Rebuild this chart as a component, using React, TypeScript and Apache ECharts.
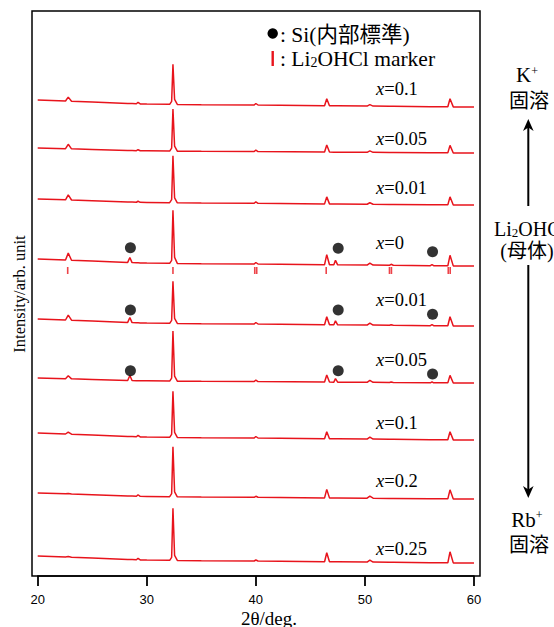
import React, { useEffect, useRef } from 'react';
import * as echarts from 'echarts';

// 2θ sampling points (deg) shared by all patterns
const angles = [20, 22.55, 22.8, 23.1, 25, 28.25, 28.45, 28.65, 29.05, 29.2, 29.4, 30, 32.1, 32.28, 32.4, 32.55, 32.8, 35, 39.85, 40.0, 40.2, 46.3, 46.5, 46.75, 47.15, 47.3, 47.5, 50.2, 50.45, 50.75, 52.25, 52.4, 52.6, 56.0, 56.15, 56.3, 57.6, 57.8, 58.1, 60];
// background shape (relative, for a 7-unit fall from 20° to 60°)
const baseShape = [7, 6.0, 5.9, 5.8, 5.0, 3.6, 3.5, 3.4, 3.2, 3.2, 3.1, 3.0, 2.7, 2.7, 2.7, 2.6, 2.6, 2.3, 2.0, 2.0, 2.0, 1.3, 1.3, 1.3, 1.2, 1.2, 1.2, 0.9, 0.9, 0.9, 0.7, 0.7, 0.7, 0.3, 0.3, 0.3, 0.2, 0.2, 0.1, 0];
const peakCenters = [22.8, 28.45, 29.2, 32.28, 32.4, 32.55, 40.0, 46.5, 47.3, 50.45, 52.4, 56.15, 57.8];

// samples, top to bottom
const sampleLabels = ['0.1', '0.05', '0.01', '0', '0.01', '0.05', '0.1', '0.2', '0.25'];
const endLevels = [469, 423, 371, 310, 250, 193, 136, 77, 13];
const drops = [7, 5, 6, 7, 7, 5, 7, 6, 7];
const peakHeights = [
  [4, 0, 1.5, 3, 40, 5, 1.5, 7, 0, 1.5, 0, 0, 8],
  [4.5, 0, 1, 3, 42, 5, 1.5, 7, 0, 1.5, 0, 0, 7.5],
  [5, 0, 1, 3, 47, 5, 1.5, 7, 0, 1.5, 0, 0, 8],
  [7, 5, 0, 3, 53, 6, 1.5, 10, 4.5, 2, 1, 1, 10.5],
  [5, 5, 0, 3, 42, 5, 1.5, 8, 4, 2, 0.5, 1, 9],
  [3, 5, 0, 3, 50, 5, 1.5, 7, 3.5, 2, 0.5, 1, 7.5],
  [2, 0, 1.5, 3, 46, 5, 1.5, 7, 0, 2, 0, 0, 8],
  [0.5, 0, 1.5, 3, 50, 5, 1, 8.5, 0, 2, 0, 0, 9],
  [0.5, 0, 1.5, 3, 52, 5, 1, 9, 0, 2, 0, 0, 11],
];

// Si internal standard markers
const siAngles = [28.5, 47.55, 56.2];
const siTraces = [3, 4, 5];
const siHeights = [
  [18.3, 17.7, 14.3],
  [16, 16, 11.7],
  [12.3, 12.3, 9],
];

// Li2OHCl reference marks (under x=0 pattern)
const markerAngles = [22.75, 32.4, 39.9, 40.08, 46.45, 52.25, 52.43, 57.64, 57.82];
const markerTrace = 3;
const markerDrop = 4.5;

const xTicks = [20, 30, 40, 50, 60];

// label vertical positions (px) for the x= labels
const labelY = [89, 138.5, 188, 243, 300, 360, 423, 481, 548.5];

const RED = '#e8141c';
const SERIF = '"Liberation Serif", "Times New Roman", "Noto Sans CJK JP", serif';

export default function App() {
  const ref = useRef<HTMLDivElement>(null);
  useEffect(() => {
    document.body.style.margin = '0';
    document.body.style.overflow = 'hidden';
    const chart = echarts.init(ref.current!, undefined, { renderer: 'svg' });

    const traceSeries = endLevels.map((lvl, k) => ({
      type: 'line',
      data: angles.map((a, i) => {
        const j = peakCenters.indexOf(a);
        const pk = j >= 0 ? peakHeights[k][j] : 0;
        return [a, lvl + (baseShape[i] * drops[k]) / 7 + pk];
      }),
      showSymbol: false,
      symbol: 'none',
      lineStyle: { color: RED, width: 1.5 },
      z: 2,
      silent: true,
    }));

    const siData: number[][] = [];
    siTraces.forEach((t, r) => {
      siAngles.forEach((a, c) => siData.push([a, endLevels[t] + siHeights[r][c]]));
    });

    const markerData = markerAngles.map((a) => [a, endLevels[markerTrace] - markerDrop]);

    const graphics: any[] = [
      { type: 'rect', shape: { x: 32, y: 11, width: 448, height: 565 }, style: { fill: 'none', stroke: '#000', lineWidth: 1.5 }, z: 100 },
      // legend
      { type: 'circle', shape: { cx: 272.7, cy: 33.5, r: 5.2 }, style: { fill: '#000' } },
      { type: 'text', x: 280, y: 34.5, style: { text: ': Si(内部標準)', font: `21.5px ${SERIF}`, fill: '#000', verticalAlign: 'middle', align: 'left' } },
      { type: 'rect', shape: { x: 271.5, y: 51, width: 2.4, height: 15 }, style: { fill: RED } },
      {
        type: 'text', x: 280, y: 58.5,
        style: {
          text: ': Li{sub|2}OHCl marker', font: `21.5px ${SERIF}`, fill: '#000', verticalAlign: 'middle', align: 'left',
          rich: { sub: { fontSize: 14, fontFamily: SERIF, verticalAlign: 'bottom', fill: '#000' } },
        },
      },
      // axis title
      { type: 'text', x: 19, y: 294, rotation: Math.PI / 2, style: { text: 'Intensity/arb. unit', font: `16.5px ${SERIF}`, fill: '#000', align: 'center', verticalAlign: 'middle' } },
      { type: 'text', x: 269, y: 609, style: { text: '2θ/deg.', font: `19px ${SERIF}`, fill: '#000', align: 'center', verticalAlign: 'top' } },
      // right annotations
      { type: 'text', x: 527, y: 75, style: { text: 'K{sup|+}', font: `21px ${SERIF}`, fill: '#000', align: 'center', verticalAlign: 'middle', rich: { sup: { fontSize: 12, verticalAlign: 'top', fontFamily: SERIF, fill: '#000' } } } },
      { type: 'text', x: 529, y: 101, style: { text: '固溶', font: `20px ${SERIF}`, fill: '#000', align: 'center', verticalAlign: 'middle' } },
      { type: 'line', shape: { x1: 528.3, y1: 206, x2: 528.3, y2: 124 }, style: { stroke: '#000', lineWidth: 2 } },
      { type: 'polygon', shape: { points: [[528.3, 119], [523, 131], [528.3, 127.5], [533.6, 131]] }, style: { fill: '#000' } },
      { type: 'text', x: 530, y: 228.5, style: { text: 'Li{sub|2}OHCl', font: `20px ${SERIF}`, fill: '#000', align: 'center', verticalAlign: 'middle', rich: { sub: { fontSize: 13, fontFamily: SERIF, verticalAlign: 'bottom', fill: '#000' } } } },
      { type: 'text', x: 527, y: 251, style: { text: '(母体)', font: `20px ${SERIF}`, fill: '#000', align: 'center', verticalAlign: 'middle' } },
      { type: 'line', shape: { x1: 528.3, y1: 265, x2: 528.3, y2: 492 }, style: { stroke: '#000', lineWidth: 2 } },
      { type: 'polygon', shape: { points: [[528.3, 498], [523, 486], [528.3, 489.5], [533.6, 486]] }, style: { fill: '#000' } },
      { type: 'text', x: 527, y: 519.5, style: { text: 'Rb{sup|+}', font: `21px ${SERIF}`, fill: '#000', align: 'center', verticalAlign: 'middle', rich: { sup: { fontSize: 12, verticalAlign: 'top', fontFamily: SERIF, fill: '#000' } } } },
      { type: 'text', x: 529, y: 545, style: { text: '固溶', font: `20px ${SERIF}`, fill: '#000', align: 'center', verticalAlign: 'middle' } },
    ];

    sampleLabels.forEach((lab, k) => {
      graphics.push({
        type: 'text', x: 376, y: labelY[k],
        style: {
          text: `{i|x}=${lab}`, font: `18.5px ${SERIF}`, fill: '#000', align: 'left', verticalAlign: 'middle',
          rich: { i: { fontStyle: 'italic', fontSize: 18.5, fontFamily: SERIF, fill: '#000' } },
        },
      });
    });

    chart.setOption({
      animation: false,
      backgroundColor: '#fff',
      grid: { left: 37.7, right: 80, top: 11, bottom: 51 },
      xAxis: {
        type: 'value', min: xTicks[0], max: xTicks[xTicks.length - 1], interval: 10,
        axisLine: { show: true, onZero: false, lineStyle: { color: '#000', width: 1.5 } },
        axisTick: { show: true, inside: false, length: 10, lineStyle: { color: '#000', width: 1.8 } },
        axisLabel: { show: true, color: '#000', fontFamily: '"Liberation Sans", Arial, sans-serif', fontSize: 13, margin: 17 },
        splitLine: { show: false },
      },
      yAxis: {
        type: 'value', min: 0, max: 565, show: false,
      },
      series: [
        ...traceSeries,
        {
          type: 'scatter', data: siData, symbol: 'circle', symbolSize: 11,
          itemStyle: { color: '#000' }, z: 5, silent: true,
        },
        {
          type: 'scatter', data: markerData, symbol: 'rect', symbolSize: [1.6, 7],
          itemStyle: { color: RED }, z: 5, silent: true,
        },
      ],
      graphic: graphics,
    });
    return () => chart.dispose();
  }, []);
  return <div ref={ref} style={{ width: 554, height: 627 }} />;
}
